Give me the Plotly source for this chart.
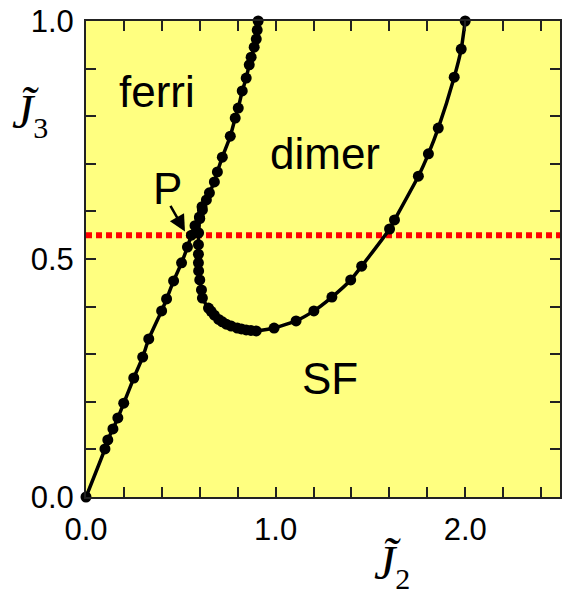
import plotly.graph_objects as go

# ferri boundary
ferri_x = [0.0, 0.100, 0.115, 0.142, 0.168, 0.199, 0.252, 0.299, 0.331, 0.399, 0.425,
           0.462, 0.504, 0.535, 0.556, 0.575, 0.598, 0.614, 0.635, 0.651, 0.677, 0.693,
           0.719, 0.761, 0.787, 0.803, 0.824, 0.845, 0.861, 0.871, 0.887, 0.898, 0.903, 0.908]
ferri_y = [0.0, 0.101, 0.120, 0.143, 0.166, 0.197, 0.250, 0.294, 0.332, 0.391, 0.416,
           0.454, 0.492, 0.525, 0.550, 0.570, 0.588, 0.603, 0.624, 0.639, 0.662, 0.683,
           0.714, 0.758, 0.796, 0.817, 0.853, 0.880, 0.908, 0.924, 0.945, 0.962, 0.981, 1.0]

# dimer boundary
dimer_x = [0.612, 0.600, 0.594, 0.593, 0.593, 0.593, 0.594, 0.600, 0.609, 0.614, 0.646,
           0.660, 0.677, 0.700, 0.719, 0.740, 0.766, 0.798, 0.820, 0.845, 0.870, 0.898,
           0.992, 1.108, 1.202, 1.297, 1.396, 1.454, 1.601, 1.627, 1.753, 1.806, 1.858,
           1.942, 1.979, 2.0]
dimer_y = [0.610, 0.585, 0.555, 0.530, 0.510, 0.492, 0.475, 0.456, 0.435, 0.418, 0.397,
           0.390, 0.382, 0.373, 0.368, 0.363, 0.359, 0.355, 0.353, 0.351, 0.350, 0.349,
           0.355, 0.370, 0.391, 0.420, 0.456, 0.485, 0.563, 0.582, 0.674, 0.721, 0.775,
           0.882, 0.941, 1.0]

line_y = 0.55
x_ticks = [0.0, 1.0, 2.0]
x_ticklabels = ["0.0", "1.0", "2.0"]
y_ticks = [0.0, 0.5, 1.0]
y_ticklabels = ["0.0", "0.5", "1.0"]

fig = go.Figure()
fig.add_trace(go.Scatter(x=[0, 2.5], y=[line_y, line_y], mode="lines",
                         line=dict(color="#ff0000", width=6, dash="6px,4px"),
                         hoverinfo="skip"))
for xs, ys in [(ferri_x, ferri_y), (dimer_x, dimer_y)]:
    fig.add_trace(go.Scatter(x=xs, y=ys, mode="lines+markers", cliponaxis=False,
                             line=dict(color="black", width=3.5, shape="spline", smoothing=0.5),
                             marker=dict(color="black", size=11)))

lab_font = dict(family="Liberation Sans, Arial", size=44, color="black")
ann = []
for txt, x, y in [("ferri", 0.373, 0.851), ("dimer", 1.262, 0.722),
                  ("SF", 1.289, 0.249), ("P", 0.430, 0.649)]:
    ann.append(dict(x=x, y=y, xref="x", yref="y", text=txt, showarrow=False,
                    font=lab_font, xanchor="center", yanchor="middle"))
ann.append(dict(x=0.522, y=0.558, ax=0.441, ay=0.615, xref="x", yref="y",
                axref="x", ayref="y", text="", showarrow=True, arrowhead=2,
                arrowsize=1.3, arrowwidth=2.5, arrowcolor="black"))

# axis titles: J with tilde and small subscript
serif = "Liberation Serif, Times New Roman"
W, H = 562, 594
L, R, T, B = 86, 0, 21, 97
pw, ph = W - L - R, H - T - B


def px2paper(x, y):
    return (x - L) / pw, (H - B - y) / ph


def title(x, y, sub):
    px, py = px2paper(x, y)
    return dict(x=px, y=py, xref="paper", yref="paper", showarrow=False,
                xanchor="center", yanchor="middle",
                text="<i>J\u0303</i><sub><span style='font-size:30px'>%s</span></sub>" % sub,
                font=dict(family=serif, size=48, color="black"))


ann.append(title(30, 115, "3"))
ann.append(title(393, 565, "2"))

tick_font = dict(family="Liberation Sans, Arial", size=31, color="black")
axis_common = dict(ticks="inside", ticklen=10, tickwidth=1.5, tickcolor="#222",
                   showline=True, linecolor="#222", linewidth=2, mirror="ticks",
                   showgrid=False, zeroline=False, tickfont=tick_font)
fig.update_layout(
    width=W, height=H, margin=dict(l=L, r=R, t=T, b=B),
    paper_bgcolor="white", plot_bgcolor="#ffff80",
    showlegend=False, annotations=ann,
    xaxis=dict(range=[0, 2.5], tickvals=x_ticks, ticktext=x_ticklabels,
               minor=dict(dtick=0.2, ticks="inside", ticklen=10, tickwidth=1.5, tickcolor="#222"),
               ticklabelstandoff=4, **axis_common),
    yaxis=dict(range=[0, 1.0], tickvals=y_ticks, ticktext=y_ticklabels,
               minor=dict(dtick=0.1, ticks="inside", ticklen=10, tickwidth=1.5, tickcolor="#222"),
               ticklabelstandoff=4, **axis_common),
)
fig.write_html("out.html")
